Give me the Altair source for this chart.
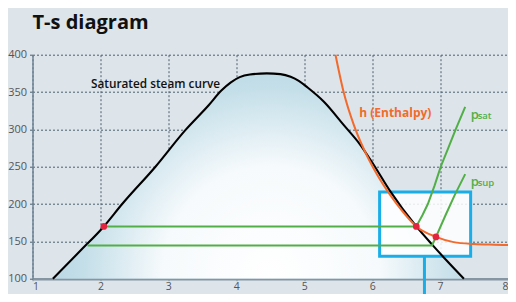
import altair as alt
import pandas as pd

# ---- data ----
sat_s = [1.30, 1.70, 2.05, 2.32, 2.81, 3.25, 3.59, 3.78, 3.92, 4.05, 4.20, 4.45, 4.65, 4.80, 4.92, 5.05, 5.29, 5.58, 5.82, 6.02, 6.26, 6.65, 6.89, 7.10, 7.35]
sat_T = [100, 137, 170, 200, 250, 299, 332, 352, 363, 370, 373.5, 375, 374, 370.5, 365, 356, 337, 306, 280, 253, 218, 170, 145, 124, 100]

h_s = [5.46, 5.58, 5.73, 5.87, 6.07, 6.26, 6.45, 6.65, 6.94, 7.20, 7.50, 7.80, 8.00]
h_T = [400, 350, 306, 275, 240, 213, 190, 170, 156, 149, 146.5, 145.5, 145]

psat_s = [2.05, 6.65, 6.74, 6.82, 6.92, 7.01, 7.12, 7.23, 7.37]
psat_T = [170, 170, 185, 200, 225, 250, 275, 300, 330]

psup_s = [1.81, 6.88, 6.94, 7.08, 7.22, 7.37]
psup_T = [144.5, 144.5, 156, 185, 213, 240]

dot_s = [2.05, 6.65, 6.94]
dot_T = [170, 170, 156]

box_s = [6.11, 7.45]
box_T = [130, 216]
pointer_s = [6.77]
pointer_T = [130, 50]

x_ticks = [1, 2, 3, 4, 5, 6, 7, 8]
y_ticks = [100, 150, 200, 250, 300, 350, 400]

labels = ["Saturated steam curve", "h (Enthalpy)"]
label_s = [1.86, 5.81]
label_T = [361, 322.5]

p_labels = ["p", "p"]
p_subs = ["sat", "sup"]
p_s = [7.45, 7.45]
p_sub_s = [7.553, 7.553]
p_T = [314, 224.5]

# ---- styling ----
BG = "#dde4ea"
GREEN = "#52af47"
ORANGE = "#f26a2c"
BLUE = "#19aee8"
RED = "#e3243f"
FONT = "Open Sans"

xscale = alt.Scale(domain=[1, 8], nice=False, zero=False)
yscale = alt.Scale(domain=[100, 400], nice=False, zero=False)

xaxis = alt.Axis(values=x_ticks, title=None, grid=True, gridDash=[2, 2], gridColor="#4a5f6e",
                 gridWidth=1, domainColor="#8595a1", domainWidth=2.5, tickSize=2, tickColor="#8595a1",
                 labelFontSize=10.5, labelColor="#555555", labelPadding=1, labelFont=FONT, format="d")
yaxis = alt.Axis(values=y_ticks, title=None, grid=True, gridDash=[2, 2], gridColor="#4a5f6e",
                 gridWidth=1, domainColor="#6f8594", domainWidth=1.5, tickSize=3, tickColor="#4a5f6e",
                 labelFontSize=11, labelColor="#555555", labelPadding=3, labelFont=FONT, format="d")

def X(field="s"):
    return alt.X(f"{field}:Q", scale=xscale, axis=xaxis)

def Y(field="T"):
    return alt.Y(f"{field}:Q", scale=yscale, axis=yaxis)

sat_df = pd.DataFrame({"s": sat_s, "T": sat_T, "i": range(len(sat_s))})
h_df = pd.DataFrame({"s": h_s, "T": h_T})
psat_df = pd.DataFrame({"s": psat_s, "T": psat_T, "i": range(len(psat_s))})
psup_df = pd.DataFrame({"s": psup_s, "T": psup_T, "i": range(len(psup_s))})
dot_df = pd.DataFrame({"s": dot_s, "T": dot_T})
box_df = pd.DataFrame({"s": [box_s[0]], "s2": [box_s[1]], "T": [box_T[0]], "T2": [box_T[1]]})
ptr_df = pd.DataFrame({"s": pointer_s, "T": [pointer_T[0]], "T2": [pointer_T[1]]})
lab_df = pd.DataFrame({"s": label_s, "T": label_T, "t": labels})
p_df = pd.DataFrame({"s": p_s, "T": p_T, "t": p_labels})
sub_df = pd.DataFrame({"s": p_sub_s, "T": p_T, "t": p_subs})

gradient = alt.RadialGradient(
    gradient="radial",
    stops=[
        alt.GradientStop(color="#ffffff", offset=0),
        alt.GradientStop(color="#f6fafc", offset=0.48),
        alt.GradientStop(color="#c5dfe9", offset=0.82),
        alt.GradientStop(color="#b6d6e3", offset=1),
    ],
    x1=0.53, y1=0.74, r1=0, x2=0.53, y2=0.74, r2=0.55,
)

dome = alt.Chart(sat_df).mark_area(color=gradient, interpolate="monotone").encode(
    x=X(), y=Y(), y2=alt.datum(100)
)

box = alt.Chart(box_df).mark_rect(fill="white", fillOpacity=0.85, stroke=BLUE, strokeWidth=3).encode(
    x=X(), x2="s2:Q", y=Y(), y2="T2:Q"
)

pointer = alt.Chart(ptr_df).mark_rule(color=BLUE, strokeWidth=3).encode(
    x=X(), y=Y(), y2="T2:Q"
)

sat_line = alt.Chart(sat_df).mark_line(color="black", strokeWidth=2.1, interpolate="monotone").encode(
    x=X(), y=Y(), order="i:Q"
)

h_line = alt.Chart(h_df).mark_line(color=ORANGE, strokeWidth=2, interpolate="monotone").encode(
    x=X(), y=Y()
)

psat_line = alt.Chart(psat_df).mark_line(color=GREEN, strokeWidth=2).encode(
    x=X(), y=Y(), order="i:Q"
)
psup_line = alt.Chart(psup_df).mark_line(color=GREEN, strokeWidth=2).encode(
    x=X(), y=Y(), order="i:Q"
)

dots = alt.Chart(dot_df).mark_circle(color=RED, size=45, opacity=1).encode(x=X(), y=Y())

sat_label = alt.Chart(lab_df.iloc[[0]]).mark_text(
    align="left", baseline="middle", font=FONT, fontSize=11.8, fontWeight=600, color="#111111"
).encode(x=X(), y=Y(), text="t:N")

h_label = alt.Chart(lab_df.iloc[[1]]).mark_text(
    align="left", baseline="middle", font=FONT, fontSize=12, fontWeight="bold", color=ORANGE
).encode(x=X(), y=Y(), text="t:N")

p_text = alt.Chart(p_df).mark_text(
    align="left", baseline="alphabetic", font=FONT, fontSize=13, fontWeight=600, color=GREEN
).encode(x=X(), y=Y(), text="t:N")

sub_text = alt.Chart(sub_df).mark_text(
    align="left", baseline="alphabetic", font=FONT, fontSize=9.5, fontWeight=600, color=GREEN
).encode(x=X(), y=Y(), text="t:N")

chart = alt.layer(
    dome, box, pointer, sat_line, h_line, psat_line, psup_line, dots,
    sat_label, h_label, p_text, sub_text
).properties(
    width=475.5,
    height=224,
    autosize=alt.AutoSizeParams(type="none"),
    padding={"left": 24.5, "top": 46.7, "right": 0, "bottom": 15.3},
    background=BG,
    title=alt.TitleParams(
        "T-s diagram", anchor="start", frame="group", font=FONT, fontSize=20,
        fontWeight="bold", color="#111111", baseline="alphabetic", offset=0
    ),
).configure_view(stroke=None)

chart.save("out.html", embed_options={"renderer": "svg", "actions": False})
